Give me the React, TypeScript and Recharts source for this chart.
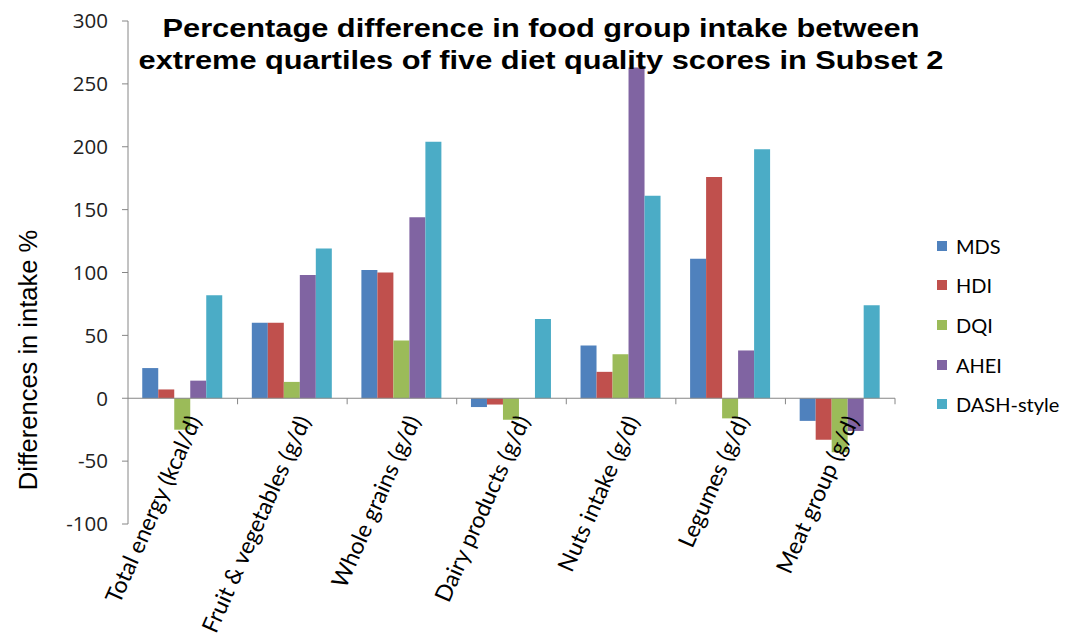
import { Bar, BarChart, ReferenceLine, XAxis, YAxis } from "recharts";

const categories = [
  "Total energy (kcal/d)",
  "Fruit & vegetables (g/d)",
  "Whole grains (g/d)",
  "Dairy products (g/d)",
  "Nuts intake (g/d)",
  "Legumes (g/d)",
  "Meat group (g/d)",
];

const mds = [24, 60, 102, -7, 42, 111, -18];
const hdi = [7, 60, 100, -5, 21, 176, -33];
const dqi = [-25, 13, 46, -17, 35, -16, -43];
const ahei = [14, 98, 144, 0, 263, 38, -26];
const dashStyle = [82, 119, 204, 63, 161, 198, 74];

const yTicks = [-100, -50, 0, 50, 100, 150, 200, 250, 300];

const series = [
  { key: "mds", name: "MDS", color: "#4F81BD", values: mds },
  { key: "hdi", name: "HDI", color: "#C0504D", values: hdi },
  { key: "dqi", name: "DQI", color: "#9BBB59", values: dqi },
  { key: "ahei", name: "AHEI", color: "#8064A2", values: ahei },
  { key: "dash", name: "DASH-style", color: "#4BACC6", values: dashStyle },
];

const data = categories.map((name, i) => {
  const row: Record<string, string | number> = { name };
  series.forEach((s) => {
    row[s.key] = s.values[i];
  });
  return row;
});

// chart geometry (plot area sits at 128..895 x 21..524)
const W = 1087;
const H = 637;
const Y_AXIS_W = 60;
const X_AXIS_H = 1;
const MARGIN = { top: 21, right: 192, bottom: 112, left: 68 };
const PLOT_W = W - MARGIN.left - Y_AXIS_W - MARGIN.right;
const PLOT_H = H - MARGIN.top - MARGIN.bottom - X_AXIS_H;
const Y_MIN = -100;
const Y_MAX = 300;
const ZERO_Y = MARGIN.top + (PLOT_H * Y_MAX) / (Y_MAX - Y_MIN);
const BAND = PLOT_W / categories.length;

const AXIS_GREY = "#868686";
const LABEL_FONT = "Lato, 'Open Sans', sans-serif";

// category labels hang off the zero line, slanted; tick marks go at the band edges
function CategoryTick(props: any) {
  const { x, payload } = props;
  const ax = x + 19;
  const ay = ZERO_Y + 22;
  const edge = x + BAND / 2;
  return (
    <g>
      <line x1={edge} x2={edge} y1={ZERO_Y} y2={ZERO_Y + 6} stroke={AXIS_GREY} />
      <text
        x={ax}
        y={ay}
        textAnchor="end"
        transform={`rotate(-66 ${ax} ${ay})`}
        fontSize={23}
        fontFamily={LABEL_FONT}
        fill="#000"
      >
        {payload.value}
      </text>
    </g>
  );
}

function LegendList() {
  return (
    <div style={{ position: "absolute", left: 937, top: 226, width: 150 }}>
      {series.map((s) => (
        <div
          key={s.key}
          style={{ display: "flex", alignItems: "center", height: 39.6, fontFamily: LABEL_FONT, fontSize: 20 }}
        >
          <span style={{ width: 10, height: 10, background: s.color, marginRight: 9, display: "inline-block" }} />
          <span style={{ color: "#000" }}>{s.name}</span>
        </div>
      ))}
    </div>
  );
}

export default function App() {
  return (
    <div style={{ position: "absolute", left: 0, top: 0, width: W, height: H, background: "#fff", overflow: "hidden" }}>
      <BarChart width={W} height={H} data={data} margin={MARGIN} barCategoryGap="13%" barGap={0}>
        <XAxis
          dataKey="name"
          height={X_AXIS_H}
          axisLine={false}
          tickLine={false}
          interval={0}
          tick={<CategoryTick />}
        />
        <YAxis
          width={Y_AXIS_W}
          domain={[Y_MIN, Y_MAX]}
          ticks={yTicks}
          interval={0}
          allowDataOverflow
          axisLine={{ stroke: AXIS_GREY }}
          tickLine={{ stroke: AXIS_GREY }}
          tickSize={6}
          tickMargin={14}
          tick={{ fill: "#222", fontSize: 20.5, fontFamily: "'Open Sans', sans-serif" }}
        />
        <ReferenceLine y={0} stroke={AXIS_GREY} strokeWidth={1.2} />
        {series.map((s) => (
          <Bar key={s.key} dataKey={s.key} name={s.name} fill={s.color} isAnimationActive={false} />
        ))}
      </BarChart>
      <LegendList />
      <div
        style={{
          position: "absolute",
          left: 541,
          top: 12,
          transform: "translateX(-50%) scaleX(1.23)",
          whiteSpace: "nowrap",
          textAlign: "center",
          fontFamily: "'Liberation Sans', Arial, sans-serif",
          fontWeight: "bold",
          fontSize: 25,
          lineHeight: "32px",
          color: "#000",
        }}
      >
        Percentage difference in food group intake between
        <br />
        extreme quartiles of five diet quality scores in Subset 2
      </div>
      <div
        style={{
          position: "absolute",
          left: 28,
          top: 360,
          transform: "translate(-50%, -50%) rotate(-90deg)",
          whiteSpace: "nowrap",
          fontFamily: "'Liberation Sans', Arial, sans-serif",
          fontSize: 25.5,
          color: "#000",
        }}
      >
        Differences in intake %
      </div>
    </div>
  );
}
